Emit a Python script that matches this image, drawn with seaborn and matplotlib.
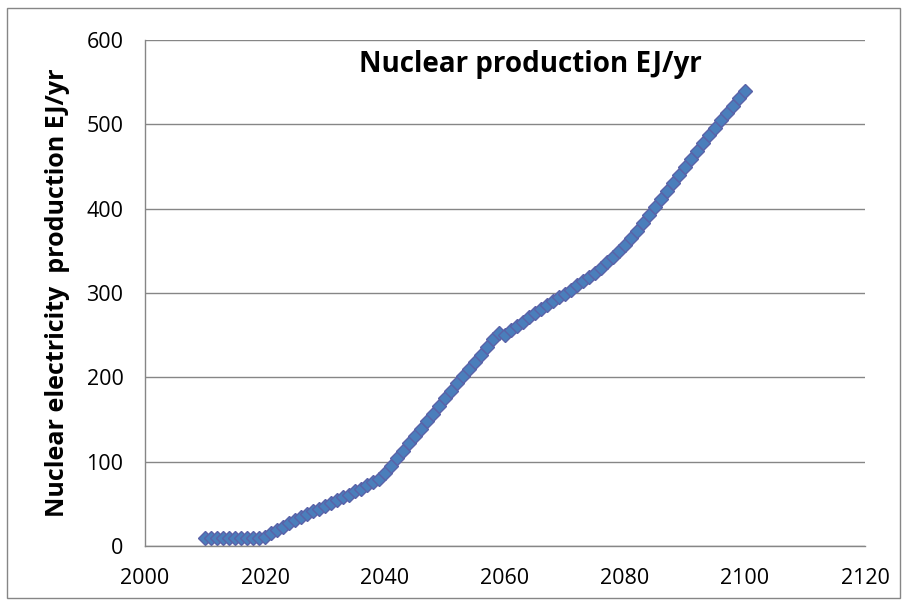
import pandas as pd
import seaborn as sns
import matplotlib.pyplot as plt
from matplotlib.patches import Rectangle

years = list(range(2010, 2101))
production = [
    10, 10, 10, 10, 10, 10, 10, 10, 10, 10,          # 2010-2019
    11, 15, 19, 23, 27, 31, 34, 38, 41, 44,          # 2020-2029
    48, 51, 54, 58, 61, 65, 68, 72, 76, 80,          # 2030-2039
    86, 95, 104, 113, 122, 131, 139, 148, 157, 166,  # 2040-2049
    175, 184, 193, 201, 210, 218, 227, 236, 245, 253,  # 2050-2059
    250, 256, 261, 266, 271, 276, 281, 286, 290, 295,  # 2060-2069
    299, 304, 309, 314, 319, 324, 330, 337, 343, 350,  # 2070-2079
    357, 365, 374, 383, 392, 402, 411, 421, 430, 440,  # 2080-2089
    449, 459, 468, 478, 487, 496, 505, 514, 522, 531,  # 2090-2099
    539,                                             # 2100
]
x_ticks = [2000, 2020, 2040, 2060, 2080, 2100, 2120]
y_ticks = [0, 100, 200, 300, 400, 500, 600]

df = pd.DataFrame({"Year": years, "Production": production})

sns.set_style("white")
plt.rcParams["font.family"] = ["Open Sans", "DejaVu Sans"]
plt.rcParams["text.color"] = "black"
plt.rcParams["axes.labelcolor"] = "black"

fig = plt.figure(figsize=(9.07, 6.04), dpi=100)
ax = fig.add_axes([145 / 907, 58 / 604, 720 / 907, 506 / 604])

sns.lineplot(data=df, x="Year", y="Production", ax=ax,
             color="#4a7ebb", linewidth=2.5,
             marker="D", markersize=7,
             markerfacecolor="#4a7ebb", markeredgecolor="#5a62a8",
             markeredgewidth=1.0)

ax.set_xlim(2000, 2120)
ax.set_ylim(0, 600)
ax.set_xticks(x_ticks)
ax.set_yticks(y_ticks)
ax.yaxis.grid(True, color="#868686", linewidth=1)
ax.xaxis.grid(False)

for side in ["top", "right"]:
    ax.spines[side].set_visible(False)
for side in ["left", "bottom"]:
    ax.spines[side].set_color("#868686")
    ax.spines[side].set_linewidth(1)

ax.tick_params(axis="both", which="both", direction="out", length=5.5,
               color="#868686", labelsize=15.5, labelcolor="black")
ax.tick_params(axis="x", pad=10)
ax.tick_params(axis="y", pad=10)

ax.set_xlabel("")
ax.set_ylabel("Nuclear electricity  production EJ/yr", fontsize=18,
              fontweight="bold")
ax.yaxis.set_label_coords((70 - 145) / 720, 0.5)

fig.text(530 / 907, 1 - 72 / 604, "Nuclear production EJ/yr",
         ha="center", va="baseline", fontsize=20, fontweight="bold")

fig.patches.append(Rectangle((7 / 907, 6 / 604), 893 / 907, 590 / 604,
                             transform=fig.transFigure, fill=False,
                             edgecolor="#868686", linewidth=1))

fig.savefig("out.png", dpi=100)
